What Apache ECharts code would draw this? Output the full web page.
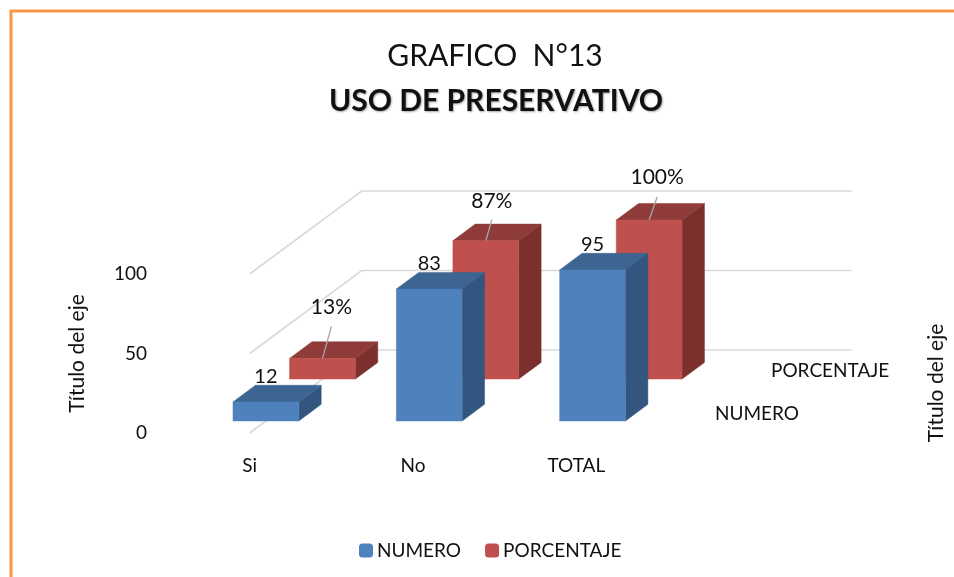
<!DOCTYPE html>
<html>
<head>
<meta charset="utf-8">
<style>html,body{margin:0;padding:0;background:#fff}#c{width:954px;height:577px}</style>
<script src="https://cdn.jsdelivr.net/npm/echarts@6/dist/echarts.min.js"></script>
</head>
<body>
<div id="c"></div>
<script>
const categories = ['Si', 'No', 'TOTAL'];
const numero = [12, 83, 95];
const porcentaje = [13, 87, 100];
const yTicks = [0, 50, 100];
const titleLine1 = 'GRAFICO  N°13';
const titleLine2 = 'USO DE PRESERVATIVO';
const axisTitle = 'Título del eje';

const FONT = 'Lato, "Open Sans", sans-serif';
const DEPTH = { x: 112, y: -83 };      // vector across the floor, front to back wall
const BLUE = { front: '#4F81BD', top: '#3D6592', side: '#325680' };
const RED = { front: '#C0504D', top: '#8F3B39', side: '#7B302E' };
const labelShift = { porcentaje: [[9, -51, -32], [6, -39, -21], [8, -43, -23]] };

function pts(arr) { return arr.map(p => [p[0], p[1]]); }
function poly(arr, color) {
  return { type: 'polygon', shape: { points: pts(arr) }, style: { fill: color, stroke: color, lineWidth: 0.5 } };
}
function barRender(colors, d1, percent) {
  return function (params, api) {
    const i = api.value(0), v = api.value(1);
    const base = api.coord([i, 0]), top = api.coord([i, v]);
    const w = api.size([1, 0])[0] * 0.403, dd = 0.2;
    const fx = base[0] + DEPTH.x * d1 - w / 2, fb = base[1] + DEPTH.y * d1, ft = fb - (base[1] - top[1]);
    const dx = DEPTH.x * dd, dy = DEPTH.y * dd, rx = fx + w;
    const kids = [
      poly([[rx, fb], [rx + dx, fb + dy], [rx + dx, ft + dy], [rx, ft]], colors.side),
      poly([[fx, ft], [rx, ft], [rx + dx, ft + dy], [fx + dx, ft + dy]], colors.top),
      poly([[fx, fb], [rx, fb], [rx, ft], [fx, ft]], colors.front)
    ];
    const cx = fx + w / 2;
    if (percent) {
      const s = labelShift.porcentaje[i];
      kids.push({ type: 'line', shape: { x1: cx, y1: ft, x2: cx + s[0], y2: ft + s[2] }, style: { stroke: '#a6a6a6', lineWidth: 1.3 } });
      kids.push({ type: 'text', style: { x: cx + s[0], y: ft + s[1], text: v + '%', font: '21px ' + FONT, fill: '#111', align: 'center', verticalAlign: 'middle' } });
    } else {
      kids.push({ type: 'text', style: { x: cx, y: ft + dy - 9, text: String(v), font: '20px ' + FONT, fill: '#111', align: 'center', verticalAlign: 'middle' } });
    }
    return { type: 'group', children: kids };
  };
}
function wallRender(params, api) {
  const v = api.value(0);
  const a = api.coord([-0.5, v]), b = api.coord([2.5, v]);
  return {
    type: 'polyline',
    shape: { points: [[a[0], a[1]], [a[0] + DEPTH.x, a[1] + DEPTH.y], [b[0] + DEPTH.x, b[1] + DEPTH.y]] },
    style: { fill: null, stroke: '#d9d9d9', lineWidth: 1.6 }
  };
}
const chart = echarts.init(document.getElementById('c'), null, { renderer: 'canvas' });
chart.setOption({
  backgroundColor: '#fff',
  animation: false,
  title: [
    { text: titleLine1, left: 490, top: 36, textAlign: 'center', textStyle: { fontFamily: FONT, fontWeight: 'normal', fontSize: 30, color: '#111' } },
    { text: titleLine2, left: 491, top: 81, textAlign: 'center', textStyle: { fontFamily: FONT, fontWeight: 'bold', fontSize: 30, color: '#111', textShadowColor: 'rgba(0,0,0,0.35)', textShadowBlur: 2, textShadowOffsetX: 1, textShadowOffsetY: 1 } }
  ],
  legend: {
    data: ['NUMERO', 'PORCENTAJE'], left: 354, top: 536, itemWidth: 14, itemHeight: 14, itemGap: 24,
    textStyle: { fontFamily: FONT, fontSize: 19, color: '#111', padding: [0, 0, 0, -1] }
  },
  grid: { left: 168, width: 490, top: 274, height: 159, containLabel: false },
  xAxis: {
    type: 'category', data: categories, axisLine: { show: false }, axisTick: { show: false },
    axisLabel: { margin: 23, fontFamily: FONT, fontSize: 19, color: '#111' }
  },
  yAxis: {
    type: 'value', min: 0, max: 100, interval: 50, splitLine: { show: false }, axisLine: { show: false }, axisTick: { show: false },
    axisLabel: { margin: 21, fontFamily: FONT, fontSize: 19, color: '#111' },
    name: axisTitle, nameLocation: 'middle', nameRotate: 90, nameGap: 80,
    nameTextStyle: { fontFamily: FONT, fontSize: 21, color: '#111' }
  },
  series: [
    { type: 'custom', name: 'wall', z: 1, silent: true, renderItem: wallRender, data: yTicks.map(v => [v]), encode: { y: 0 } },
    { type: 'custom', name: 'PORCENTAJE', z: 2, itemStyle: { color: RED.front }, renderItem: barRender(RED, 0.65, true), data: porcentaje.map((v, i) => [i, v]), encode: { x: 0, y: 1 } },
    { type: 'custom', name: 'NUMERO', z: 3, itemStyle: { color: BLUE.front }, renderItem: barRender(BLUE, 0.145, false), data: numero.map((v, i) => [i, v]), encode: { x: 0, y: 1 } }
  ],
  graphic: [
    { type: 'polyline', silent: true, shape: { points: [[11, 577], [11, 11], [954, 11]] }, style: { fill: null, stroke: '#F79646', lineWidth: 3 } },
    { type: 'text', x: 771, y: 371, style: { text: 'PORCENTAJE', font: '19px ' + FONT, fill: '#111', verticalAlign: 'middle' } },
    { type: 'text', x: 715, y: 414, style: { text: 'NUMERO', font: '19px ' + FONT, fill: '#111', verticalAlign: 'middle' } },
    { type: 'text', x: 936, y: 383, rotation: Math.PI / 2, style: { text: axisTitle, font: '21px ' + FONT, fill: '#111', align: 'center', verticalAlign: 'middle' } }
  ]
});
</script>
</body>
</html>
